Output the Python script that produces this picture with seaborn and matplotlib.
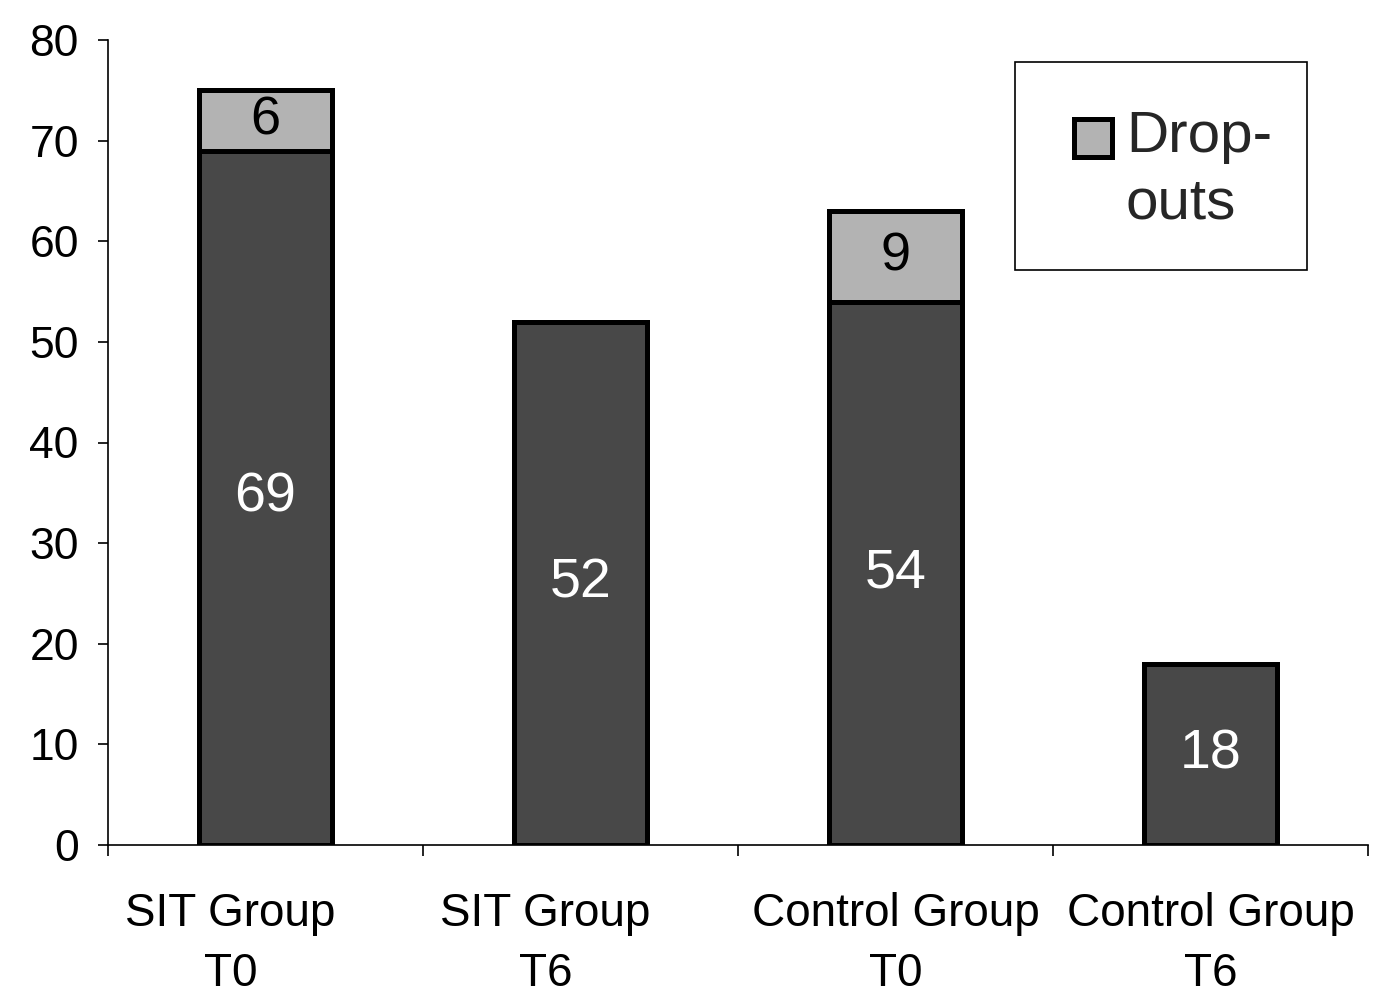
import matplotlib
matplotlib.use("Agg")
import matplotlib.pyplot as plt
from matplotlib.patches import Patch, Rectangle
from matplotlib.legend_handler import HandlerPatch
import matplotlib.transforms as mtransforms
import seaborn as sns
import pandas as pd
import numpy as np

categories = ["SIT Group\nT0", "SIT Group\nT6", "Control Group\nT0", "Control Group\nT6"]
completers = [69, 52, 54, 18]
dropouts = [6, 0, 9, 0]
y_ticks = [0, 10, 20, 30, 40, 50, 60, 70, 80]

sns.set_style("white")
plt.rcParams['font.family'] = ['Liberation Sans', 'DejaVu Sans']

dark = "#484848"
light = "#b3b3b3"

totals = [c + d for c, d in zip(completers, dropouts)]
df = pd.DataFrame({"cat": categories, "total": totals, "comp": completers, "drop": dropouts})

W, H = 1373, 1008
fig = plt.figure(figsize=(W / 100, H / 100), dpi=100)
ax = fig.add_axes([108/W, 1 - 845/H, 1260/W, 805/H])

sns.barplot(data=df, x="cat", y="total", color=light, edgecolor="black",
            linewidth=3.6, width=0.42, saturation=1, ax=ax)
sns.barplot(data=df, x="cat", y="comp", color=dark, edgecolor="black",
            linewidth=3.6, width=0.42, saturation=1, ax=ax)

for i, (c, d) in enumerate(zip(completers, dropouts)):
    ax.text(i, c / 2, str(c), ha="center", va="center", color="white", fontsize=40)
    if d > 0:
        ax.text(i, c + d / 2, str(d), ha="center", va="center", color="black", fontsize=39)

ax.set_xlim(-0.5, 3.5)
ax.set_ylim(0, 80)
ax.set_yticks(y_ticks)
ax.set_xlabel("")
ax.set_ylabel("")
for s in ["top", "right"]:
    ax.spines[s].set_visible(False)
for s in ["left", "bottom"]:
    ax.spines[s].set_color("black")
    ax.spines[s].set_linewidth(1.2)

ax.tick_params(axis="y", direction="out", length=7, width=1.2, labelsize=32, pad=14, colors="black", left=True)
ax.tick_params(axis="x", which="major", length=0, labelsize=33, pad=34, colors="black")
ax.set_xticks(np.arange(-0.5, 4.0, 1.0), minor=True)
ax.tick_params(axis="x", which="minor", direction="out", length=8, width=1.2, bottom=True, color="black")
label_shift = [-35, -35, 0, 0]
for lab, dx in zip(ax.get_xticklabels(), label_shift):
    lab.set_linespacing(1.47)
    if dx:
        lab.set_transform(lab.get_transform() + mtransforms.ScaledTranslation(dx / 100, 0, fig.dpi_scale_trans))

# legend box
fig.patches.append(Rectangle((1015/W, 1 - 270/H), 292/W, 208/H, transform=fig.transFigure,
                             facecolor="white", edgecolor="black", linewidth=1.2, zorder=3))


def square_patch(legend, orig_handle, xdescent, ydescent, width, height, fontsize):
    return Rectangle((-xdescent, -ydescent + 24), 27, 27)


handle = Patch(facecolor=light, edgecolor="black", linewidth=3.6)
leg = fig.legend(handles=[handle], labels=["Drop-\nouts"], loc="upper left",
                 bbox_to_anchor=(1074/W, 1 - 110/H), bbox_transform=fig.transFigure,
                 fontsize=42, frameon=False, borderpad=0, borderaxespad=0,
                 handlelength=0.64, handleheight=0.64, handletextpad=0.25,
                 handler_map={Patch: HandlerPatch(patch_func=square_patch)})
leg.set_zorder(4)
for t in leg.get_texts():
    t.set_linespacing(1.3)

fig.savefig("out.png", dpi=100, facecolor="white")
